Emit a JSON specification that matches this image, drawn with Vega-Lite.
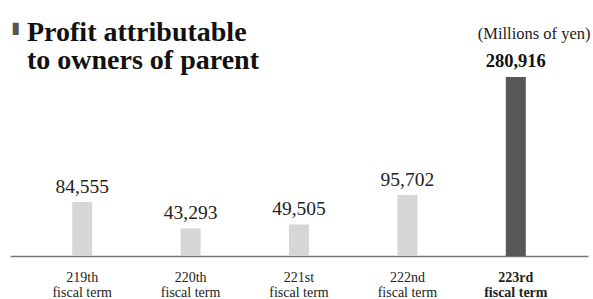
{
  "$schema": "https://vega.github.io/schema/vega-lite/v6.json",
  "autosize": {"type": "none"},
  "width": 578,
  "height": 179,
  "padding": {"left": 10, "top": 77, "right": 5, "bottom": 43},
  "background": "white",
  "config": {"view": {"stroke": null}},
  "title": {
    "text": ["Profit attributable", "to owners of parent"],
    "anchor": "start",
    "frame": "group",
    "font": "Liberation Serif",
    "fontSize": 28,
    "fontWeight": "bold",
    "color": "#111111",
    "dx": 17,
    "dy": 64,
    "lineHeight": 28,
    "offset": 8
  },
  "data": {
    "values": [
      {"term": "219th", "profit": 84555},
      {"term": "220th", "profit": 43293},
      {"term": "221st", "profit": 49505},
      {"term": "222nd", "profit": 95702},
      {"term": "223rd", "profit": 280916}
    ]
  },
  "encoding": {
    "x": {
      "field": "term",
      "type": "nominal",
      "sort": null,
      "scale": {"paddingInner": 0, "paddingOuter": 0.166},
      "axis": {
        "title": "▮",
        "titleFont": "DejaVu Sans",
        "titleFontSize": 16,
        "titleFontWeight": "normal",
        "titleColor": "#555555",
        "titleX": 1,
        "titleY": -224,
        "titleAlign": "left",
        "titleBaseline": "alphabetic",
        "titleAngle": 0,
        "labelAngle": 0,
        "labelFont": "Liberation Serif",
        "labelFontSize": 14,
        "labelColor": "#222222",
        "labelLineHeight": 15,
        "labelBaseline": "top",
        "labelPadding": 14,
        "labelExpr": "[datum.label, 'fiscal term']",
        "labelFontWeight": {"condition": {"test": "datum.value == '223rd'", "value": "bold"}, "value": "normal"},
        "ticks": false,
        "domainColor": "#777777",
        "domainWidth": 1.5
      }
    },
    "y": {
      "field": "profit",
      "type": "quantitative",
      "scale": {"domain": [0, 280916], "nice": false},
      "axis": {
        "orient": "right",
        "domain": false,
        "ticks": false,
        "labels": false,
        "grid": false,
        "title": "(Millions of yen)",
        "titleAngle": 0,
        "titleAlign": "right",
        "titleBaseline": "alphabetic",
        "titleX": 2,
        "titleY": -39,
        "titleFont": "Liberation Serif",
        "titleFontSize": 16.5,
        "titleFontWeight": "normal",
        "titleColor": "#222222"
      }
    }
  },
  "layer": [
    {
      "mark": {"type": "bar", "width": 20},
      "encoding": {
        "color": {"condition": {"test": "datum.term == '223rd'", "value": "#585858"}, "value": "#d6d6d6"}
      }
    },
    {
      "transform": [{"filter": "datum.term != '223rd'"}],
      "mark": {"type": "text", "font": "Liberation Serif", "fontSize": 19.5, "baseline": "alphabetic", "dy": -9, "color": "#222222"},
      "encoding": {"text": {"field": "profit", "type": "quantitative", "format": ","}}
    },
    {
      "transform": [{"filter": "datum.term == '223rd'"}],
      "mark": {"type": "text", "font": "Liberation Serif", "fontSize": 18.5, "fontWeight": "bold", "baseline": "alphabetic", "dy": -10, "color": "#111111"},
      "encoding": {"text": {"field": "profit", "type": "quantitative", "format": ","}}
    }
  ]
}
